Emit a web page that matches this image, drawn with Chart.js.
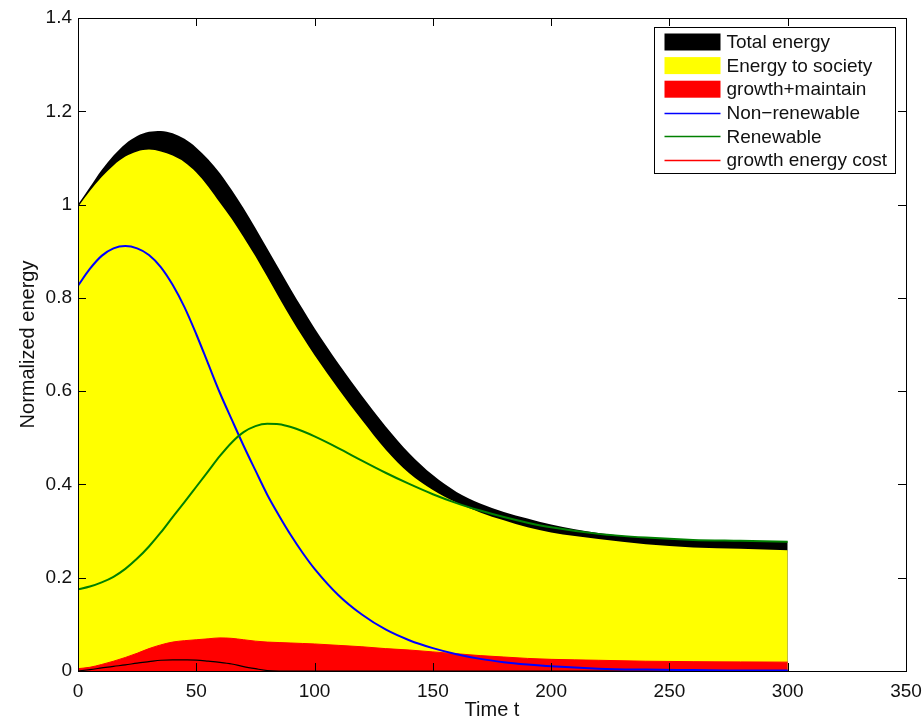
<!DOCTYPE html>
<html>
<head>
<meta charset="utf-8">
<script src="https://cdn.jsdelivr.net/npm/chart.js@4/dist/chart.umd.min.js"></script>
<style>
html,body{margin:0;padding:0;background:#fff;}
canvas{display:block;}
</style>
</head>
<body>
<canvas id="c" width="924" height="722"></canvas>
<script>
// ---- data ----
const T = [0,5,10,15,20,25,30,35,40,45,50,55,60,65,70,75,80,85,90,95,100,110,120,130,140,150,160,170,180,190,200,220,240,260,280,300];
const TOTAL_ENERGY = [1.000,1.037,1.074,1.105,1.130,1.147,1.156,1.158,1.153,1.141,1.122,1.097,1.067,1.031,0.992,0.950,0.906,0.862,0.818,0.776,0.735,0.660,0.590,0.525,0.467,0.420,0.384,0.359,0.341,0.327,0.314,0.296,0.286,0.281,0.279,0.277];
const ENERGY_TO_SOCIETY = [0.995,1.029,1.059,1.084,1.103,1.114,1.118,1.114,1.105,1.091,1.069,1.039,1.004,0.969,0.930,0.889,0.845,0.800,0.757,0.716,0.677,0.605,0.538,0.475,0.424,0.388,0.361,0.340,0.323,0.308,0.297,0.283,0.272,0.265,0.262,0.259];
const GROWTH_MAINTAIN = [0.005,0.008,0.014,0.021,0.029,0.038,0.048,0.056,0.062,0.065,0.067,0.069,0.071,0.070,0.067,0.064,0.062,0.061,0.060,0.059,0.058,0.055,0.052,0.048,0.045,0.041,0.037,0.033,0.030,0.027,0.025,0.023,0.021,0.020,0.0195,0.019];
const NON_RENEWABLE = [0.826,0.862,0.890,0.906,0.911,0.906,0.892,0.866,0.828,0.780,0.722,0.659,0.596,0.539,0.483,0.430,0.378,0.333,0.291,0.253,0.219,0.163,0.121,0.089,0.066,0.049,0.036,0.026,0.019,0.014,0.010,0.005,0.003,0.002,0.001,0.001];
const RENEWABLE = [0.175,0.181,0.190,0.202,0.219,0.241,0.267,0.297,0.330,0.362,0.395,0.428,0.461,0.490,0.512,0.525,0.530,0.529,0.523,0.514,0.503,0.478,0.451,0.425,0.401,0.379,0.360,0.344,0.330,0.318,0.308,0.294,0.286,0.281,0.279,0.277];
const COST_CURVE = [0,0.003,0.0065,0.010,0.013,0.017,0.020,0.023,0.024,0.0238,0.0232,0.021,0.0185,0.015,0.0095,0.005,0.001,0,0,0,0,0,0,0,0,0,0,0,0,0,0,0,0,0,0,0];
const X_TICKS = [0,50,100,150,200,250,300,350];
const Y_TICKS = [0,0.2,0.4,0.6,0.8,1,1.2,1.4];
const LABELS = ['Total energy','Energy to society','growth+maintain','Non\u2212renewable','Renewable','growth energy cost'];

const FONT = '"Liberation Sans", Arial, Helvetica, sans-serif';
const pts = arr => T.map((t,i)=>({x:t,y:arr[i]}));

function area(label, arr, color, order){
  return {type:'line', label, data:pts(arr), backgroundColor:color, borderColor:color, borderWidth:0,
    fill:'origin', pointRadius:0, cubicInterpolationMode:'monotone', order, legendKind:'box'};
}
function curve(label, arr, color, width, order, kind){
  return {type:'line', label, data:pts(arr), borderColor:color, backgroundColor:color, borderWidth:width,
    fill:false, pointRadius:0, cubicInterpolationMode:'monotone', order, legendKind:kind};
}

const datasets = [
  area(LABELS[0], TOTAL_ENERGY, '#000000', 10),
  area(LABELS[1], ENERGY_TO_SOCIETY, '#ffff00', 9),
  area(LABELS[2], GROWTH_MAINTAIN, '#ff0000', 8),
  curve(LABELS[3], NON_RENEWABLE, '#0000ff', 2, 3, 'line'),
  curve(LABELS[4], RENEWABLE, '#008000', 2, 2, 'line'),
  curve(LABELS[5], GROWTH_MAINTAIN, '#ff0000', 1, 7, 'line'),
  curve('', COST_CURVE, '#000000', 1.2, 4, null)
];

const frame = {
  id:'frame',
  afterDraw(chart){
    const {ctx, chartArea:a, scales:{x,y}} = chart;
    ctx.save();
    ctx.strokeStyle = '#000'; ctx.lineWidth = 1;
    ctx.strokeRect(Math.round(a.left)+0.5, Math.round(a.top)+0.5, Math.round(a.right-a.left), Math.round(a.bottom-a.top));
    const L = 8;
    ctx.beginPath();
    X_TICKS.forEach(v=>{ const px = Math.round(x.getPixelForValue(v))+0.5;
      ctx.moveTo(px, a.bottom); ctx.lineTo(px, a.bottom-L);
      ctx.moveTo(px, a.top); ctx.lineTo(px, a.top+L); });
    Y_TICKS.forEach(v=>{ const py = Math.round(y.getPixelForValue(v))+0.5;
      ctx.moveTo(a.left, py); ctx.lineTo(a.left+L, py);
      ctx.moveTo(a.right, py); ctx.lineTo(a.right-L, py); });
    ctx.stroke();

    // legend box
    const bx = Math.round(a.right) - 251.5, by = Math.round(a.top) + 9.5, bw = 241, bh = 146;
    ctx.fillStyle = '#fff'; ctx.fillRect(bx, by, bw, bh);
    ctx.strokeRect(bx, by, bw, bh);
    ctx.font = '19px ' + FONT; ctx.textBaseline = 'middle'; ctx.textAlign = 'left';
    const items = chart.data.datasets.filter(d=>d.legendKind);
    items.forEach((d,i)=>{
      const cy = by + 14.5 + i*23.6;
      const sx = bx + 10, sw = 56;
      if (d.legendKind === 'box'){
        ctx.fillStyle = d.backgroundColor; ctx.fillRect(sx, cy-8.5, sw, 17);
      } else {
        ctx.strokeStyle = d.borderColor; ctx.lineWidth = 1.5;
        ctx.beginPath(); ctx.moveTo(sx, Math.round(cy)+0.5); ctx.lineTo(sx+sw, Math.round(cy)+0.5); ctx.stroke();
      }
      ctx.fillStyle = '#111'; ctx.fillText(d.label, sx+sw+6, cy+1);
    });
    ctx.restore();
  }
};

new Chart(document.getElementById('c'), {
  type:'line',
  data:{datasets},
  options:{
    responsive:false, animation:false, devicePixelRatio:1,
    layout:{padding:{top:18, right:18, left:0, bottom:0}},
    plugins:{legend:{display:false}, tooltip:{enabled:false}},
    scales:{
      x:{type:'linear', min:0, max:350,
        afterBuildTicks(s){ s.ticks = X_TICKS.map(v=>({value:v})); },
        afterFit(s){ s.height = 51; s.paddingLeft = 0; s.paddingRight = 0; },
        grid:{display:false, drawTicks:false}, border:{display:false},
        ticks:{padding:9, color:'#111', font:{family:FONT, size:19}, maxRotation:0},
        title:{display:true, text:'Time t', color:'#111', font:{family:FONT, size:20}, padding:{top:0,bottom:0}}
      },
      y:{type:'linear', min:0, max:1.4,
        afterBuildTicks(s){ s.ticks = Y_TICKS.map(v=>({value:v})); },
        afterFit(s){ s.width = 78; s.paddingTop = 0; s.paddingBottom = 0; },
        grid:{display:false, drawTicks:false}, border:{display:false},
        ticks:{padding:6, color:'#111', font:{family:FONT, size:19}, callback:v=>String(Math.round(v*10)/10)},
        title:{display:true, text:'Normalized energy', color:'#111', font:{family:FONT, size:20}, padding:{top:16,bottom:0}}
      }
    }
  },
  plugins:[frame]
});
</script>
</body>
</html>
